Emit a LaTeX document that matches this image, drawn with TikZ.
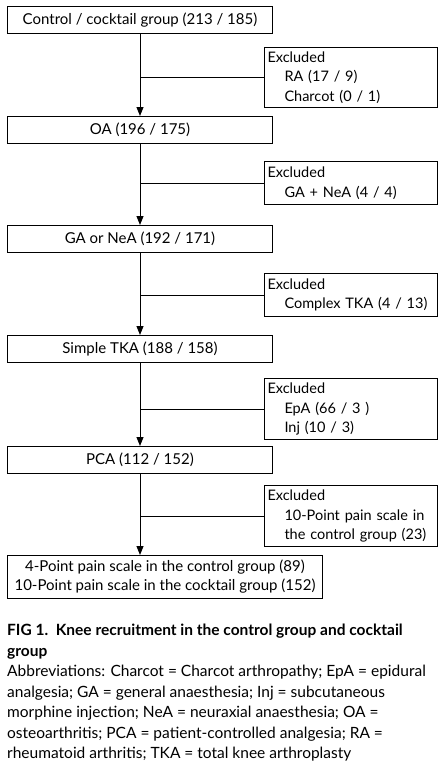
\documentclass[tikz,border=0pt]{standalone}
\usepackage{fontspec}
\setmainfont{Lato}
\usetikzlibrary{arrows.meta}

\tikzset{
  stage/.style={draw, line width=1pt, minimum width=265pt, minimum height=27pt,
    inner sep=0pt, anchor=north west, font=\fontsize{15}{19}\selectfont},
  excl/.style={draw, line width=1pt, text width=167pt, align=left, inner xsep=3pt,
    inner ysep=0pt, anchor=north west, font=\fontsize{14.5}{19.5}\selectfont},
  flow/.style={line width=1pt, -{Triangle[length=9pt,width=7pt]}},
}
\newcommand{\ind}{\hspace*{17pt}}

\begin{document}
\begin{tikzpicture}[x=1pt,y=-1pt]
   \useasboundingbox (0,0) rectangle (444,774);

   % main stages
   \node[stage] (ctrl) at (7,6) {Control / cocktail group (213 / 185)};
   \node[stage] (oa) at (7,116) {OA (196 / 175)};
   \node[stage] (ga) at (7,225) {GA or NeA (192 / 171)};
   \node[stage] (tka) at (7,335) {Simple TKA (188 / 158)};
   \node[stage] (pca) at (7,446) {PCA (112 / 152)};
   \node[stage, minimum width=315pt, minimum height=43pt, align=center] (final) at (7,555)
     {4-Point pain scale in the control group (89)\\10-Point pain scale in the cocktail group (152)};

   % exclusions
   \node[excl, minimum height=60pt] (exA) at (264,47) {Excluded\\\ind RA (17 / 9)\\\ind Charcot (0 / 1)};
   \node[excl, minimum height=43pt] (exB) at (264,161) {Excluded\\\ind GA + NeA (4 / 4)};
   \node[excl, minimum height=43pt] (exC) at (264,273) {Excluded\\\ind\mbox{Complex TKA (4 / 13)}};
   \node[excl, minimum height=61pt] (exD) at (264,378) {Excluded\\\ind EpA (66 / 3 )\\\ind Inj (10 / 3)};
   \node[excl, minimum height=61pt] (exE) at (264,485) {Excluded\\\ind 10-Point pain scale in\\\ind the control group (23)};

   % arrows down
   \draw[flow] (ctrl.south) -- (oa.north);
   \draw[flow] (oa.south) -- (ga.north);
   \draw[flow] (ga.south) -- (tka.north);
   \draw[flow] (tka.south) -- (pca.north);
   \draw[flow] (pca.south) -- (final.north -| pca.south);

   % side branches
   \foreach \ex/\up in {exA/ctrl, exB/oa, exC/ga, exD/tka, exE/pca}
     \draw[line width=1pt] (\ex.west) -- (\ex.west -| \up.south);

   % caption
   \node[anchor=north west, inner sep=0pt, align=left, font=\fontsize{15.5}{20.5}\selectfont] (caption) at (7,624)
     {\textbf{FIG 1.\ \ Knee recruitment in the control group and cocktail}\\
      \textbf{group}\\
      Abbreviations: Charcot = Charcot arthropathy; EpA = epidural\\
      analgesia; GA = general anaesthesia; Inj = subcutaneous\\
      morphine injection; NeA = neuraxial anaesthesia; OA =\\
      osteoarthritis; PCA = patient-controlled analgesia; RA =\\
      rheumatoid arthritis; TKA = total knee arthroplasty};
\end{tikzpicture}
\end{document}
